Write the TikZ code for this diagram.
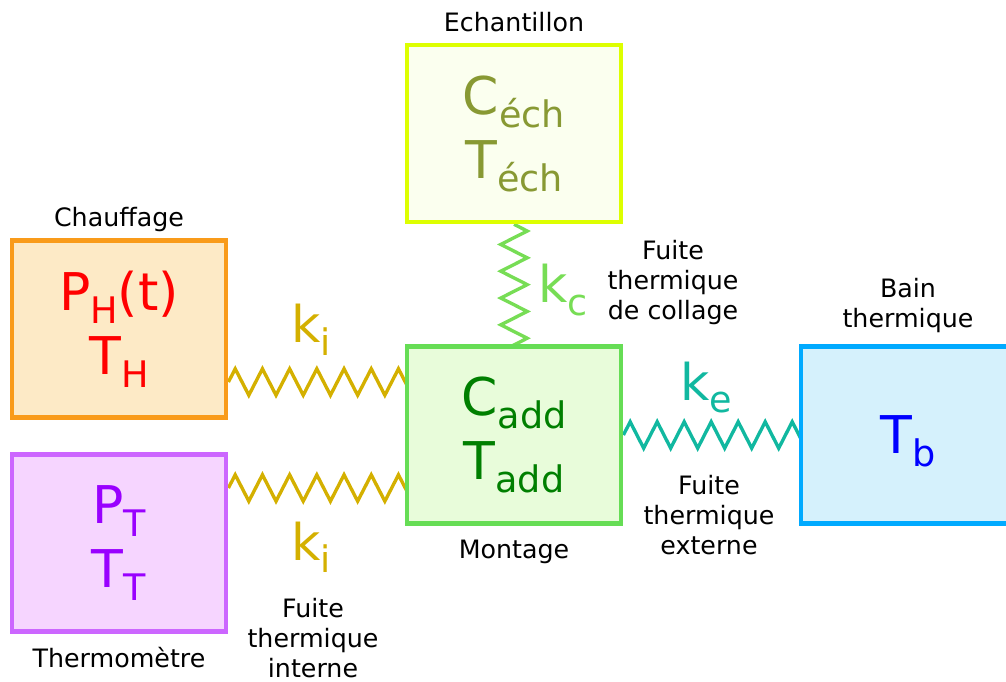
\documentclass[tikz,border=0pt]{standalone}
\usepackage{fontspec}
\setmainfont{DejaVu Sans}
\usetikzlibrary{positioning, decorations.pathmorphing, backgrounds}
\definecolor{heatline}{HTML}{F99B1A}
\definecolor{heatfill}{HTML}{FDEAC6}
\definecolor{heattext}{HTML}{FF0000}
\definecolor{thermoline}{HTML}{CC66FF}
\definecolor{thermofill}{HTML}{F6D5FF}
\definecolor{thermotext}{HTML}{9900FF}
\definecolor{sampleline}{HTML}{DDFF00}
\definecolor{samplefill}{HTML}{FBFFEF}
\definecolor{sampletext}{HTML}{889933}
\definecolor{mountline}{HTML}{66DD55}
\definecolor{mountfill}{HTML}{E8FCDA}
\definecolor{mounttext}{HTML}{007F00}
\definecolor{bathline}{HTML}{00AAFF}
\definecolor{bathfill}{HTML}{D5F1FC}
\definecolor{bathtext}{HTML}{0000FF}
\definecolor{kiyellow}{HTML}{D4B000}
\definecolor{kcgreen}{HTML}{77DD55}
\definecolor{keteal}{HTML}{11B8A0}
\newcommand{\idx}[1]{\raisebox{-0.25em}{\fontsize{26}{26}\selectfont #1}}

\begin{document}
\begin{tikzpicture}[x=0.025cm, y=-0.025cm, node distance=0.2cm,
  box/.style={line width=3.4pt, minimum width=5.35cm, minimum height=4.42cm,
    align=center, inner sep=0pt, font=\fontsize{37}{45.5}\selectfont},
  caption/.style={inner sep=0pt, align=center, text depth=0.24em,
    font=\fontsize{18}{21.3}\selectfont},
  klabel/.style={inner sep=0pt, font=\fontsize{36}{43}\selectfont},
  spring/.style 2 args={line width=2.4pt, draw=#1, decorate,
    decoration={zigzag, amplitude=0.33cm, segment length=#2}}]
  \useasboundingbox (0,0) rectangle (1006,682);
  \clip (0,0) rectangle (1006,682);
  % blocs
  \node[box, draw=heatline, fill=heatfill, text=heattext] (heat) at (119,329) {P\idx{H}(t)\\T\idx{H}};
  \node[box, draw=thermoline, fill=thermofill, text=thermotext] (thermo) at (119,543) {P\idx{T}\\T\idx{T}};
  \node[box, draw=sampleline, fill=samplefill, text=sampletext] (sample) at (514,133.5) {C\idx{éch}\\T\idx{éch}};
  \node[box, draw=mountline, fill=mountfill, text=mounttext] (mount) at (514,435) {C\idx{add}\\T\idx{add}};
  \node[box, draw=bathline, fill=bathfill, text=bathtext, text height=35.6pt] (bath) at (908,435) {T\idx{b}};
  % legendes
  \node[caption, above=of heat] (heatcap) {Chauffage};
  \node[caption, below=0.34cm of thermo] (thermocap) {Thermomètre};
  \node[caption, above=of sample] (samplecap) {Echantillon};
  \node[caption, below=0.34cm of mount] (mountcap) {Montage};
  \node[caption, above=0.32cm of bath] (bathcap) {Bain\\thermique};
  \node[caption, anchor=north] (collage) at (673,240) {Fuite\\thermique\\de collage};
  \node[caption, anchor=north] (extern) at (709,475) {Fuite\\thermique\\externe};
  \node[caption, anchor=north] (intern) at (313,598) {Fuite\\thermique\\interne};
  % ressorts (le bout droit passe sous la boite)
  \begin{scope}[on background layer]
    \draw[spring={kiyellow}{0.68cm}] ([yshift=-1.325cm]heat.east) -- ([xshift=0.5cm, yshift=1.325cm]mount.west);
    \draw[spring={kiyellow}{0.68cm}] ([yshift=1.375cm]thermo.east) -- ([xshift=0.5cm, yshift=-1.325cm]mount.west);
    \draw[spring={kcgreen}{0.67cm}] (sample.south) -- ([yshift=-0.5cm]mount.north);
    \draw[spring={keteal}{0.675cm}] (mount.east) -- ([xshift=0.5cm]bath.west);
  \end{scope}
  \node[klabel, text=kiyellow, anchor=base] (kitop) at (311,343) {k\idx{i}};
  \node[klabel, text=kiyellow, anchor=base] (kibot) at (311,560) {k\idx{i}};
  \node[klabel, text=kcgreen, anchor=base] (kc) at (563,303) {k\idx{c}};
  \node[klabel, text=keteal, anchor=base] (ke) at (706,400) {k\idx{e}};
\end{tikzpicture}
\end{document}
